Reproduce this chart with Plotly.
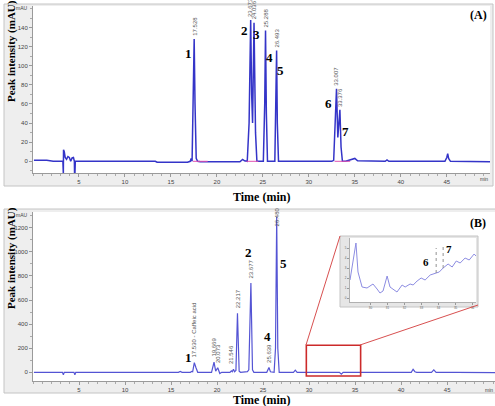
import plotly.graph_objects as go

W, H = 495, 406
def PX(x): return x / W
def PY(y): return 1 - y / H

# ---------------- Data ----------------
# Panel A : standard mixture chromatogram (time in min, intensity in mAU)
time_A = [0.1, 1.5, 2.2, 3.25, 3.3, 3.32, 3.36, 3.4, 3.5, 3.65, 3.8, 3.95, 4.1, 4.25, 4.4, 4.5, 4.52,
          4.56, 4.6, 5.0, 13.3, 13.5, 16.8, 17.1, 17.2, 17.3, 17.42, 17.528, 17.62, 17.75, 17.9, 18.2,
          22.5, 22.8, 23.0, 23.3, 23.5, 23.673, 23.78, 23.88, 24.036, 24.12, 24.2, 24.35, 24.6, 25.05,
          25.2, 25.288, 25.38, 25.5, 26.3, 26.42, 26.493, 26.57, 26.7, 27.0, 32.5, 32.7, 32.85, 33.007,
          33.15, 33.25, 33.376, 33.5, 33.65, 34.0, 34.8, 35.0, 35.3, 36.5, 38.3, 38.5, 38.7, 44.8, 45.0,
          45.1, 45.2, 45.4, 49.8]
inten_A = [1, 1.2, 0, 0, -13, 12, 8, 10, 4, 2, 5, 4, 0, 3.5, 4, 0, -13,
           -13, 0, 0, 0, -1, -1, 0, 3, 0, 60, 128, 60, 3, 0, -0.5,
           -0.5, 2, 0.5, 0, 40, 148, 70, 40, 145, 70, 30, 0, 0, 0,
           60, 137, 50, 0, 0, 60, 116, 40, 0, 0, 0, 1, 30, 76,
           25, 35, 54, 15, 0, 0, 2, 3, 0.5, 0, 0, 1.5, 0, 0, 4,
           8, 3, 0, -0.5]
baseline_A_x = [17.4, 19.0, None, 23.2, 24.5, None, 32.8, 34.5]
baseline_A_y = [0, 0, None, 0, 0, None, 0, 0]
rt_A = [17.528, 23.673, 24.036, 25.288, 26.493, 33.007, 33.376]
rt_A_h = [128, 148, 145, 137, 116, 76, 54]
rt_A_txt = ["17.528", "23.673", "24.036", "25.288", "26.493", "33.007", "33.376"]
num_A = ["1", "2", "3", "4", "5", "6", "7"]

# Panel B : sample chromatogram
time_B = [0.1, 3.2, 3.3, 3.4, 4.45, 4.55, 4.65, 15.8, 16.0, 16.2, 17.1, 17.25, 17.35, 17.53, 17.7,
          17.9, 19.4, 19.669, 19.85, 20.073, 20.3, 20.5, 21.4, 21.55, 21.65, 21.78, 21.9, 22.05,
          22.217, 22.4, 22.55, 23.3, 23.45, 23.677, 23.85, 24.0, 25.4, 25.639, 25.8, 26.2, 26.35,
          26.48, 26.6, 26.75, 27.2, 28.3, 28.5, 28.7, 33.3, 33.5, 33.7, 37.5, 37.8, 38.0, 41.1,
          41.3, 41.5, 41.7, 43.3, 43.55, 43.8, 46.0, 50.2]
inten_B = [0, 0, -20, 0, 0, -20, 0, 0, 8, 0, 0, 8, 5, 80, 40,
           0, 0, 85, 10, 38, -10, 0, 0, 12, 5, 25, 5, 15,
           490, 10, 0, 5, 20, 740, 20, 0, 0, 40, 5, 0, 200,
           1290, 200, 0, 0, 0, 18, 0, 0, -15, 0, 0, 5, 0, 0,
           25, 5, 0, 0, 20, 0, 0, -2]
rt_B = [17.53, 19.669, 20.073, 21.546, 22.217, 23.677, 25.639]
rt_B_h = [80, 85, 38, 25, 490, 740, 40]
rt_B_txt = ["17.530 - Caffeic acid", "19.669", "20.073", "21.546", "22.217", "23.677", "25.639"]
rt_B_top = 26.48
rt_B_top_h = 1290
rt_B_top_txt = "26.480"
num_B = ["1", "2", "4", "5"]

# Inset (zoom of 30-35 min region of B)
time_I = [28.80, 29.15, 29.27, 29.51, 29.80, 30.15, 30.39, 30.56, 30.74, 30.98, 31.15, 31.56, 31.86,
          32.04, 32.33, 32.51, 32.74, 32.98, 33.21, 33.51, 33.86, 34.04, 34.27, 34.56, 34.80, 35.04,
          35.27, 35.56, 35.80, 36.09, 36.2]
inten_I = [1.8, 5.5, 2.6, 1.1, 1.0, 1.4, 0.9, 0.5, 0.7, 2.2, 1.1, 0.6, 1.3,
           1.1, 1.4, 1.3, 1.7, 2.0, 1.8, 2.3, 2.5, 2.6, 3.0, 3.4, 3.1, 3.7,
           3.5, 4.0, 3.8, 4.4, 4.2]
mark_I_x = [33.86, 33.86, None, 34.27, 34.27]
mark_I_y = [2.5, 5.0, None, 3.0, 5.3]
zoom_box = dict(t0=29.7, t1=35.6, i0=-30, i1=225)

# ---------------- Figure ----------------
fig = go.Figure()
fig.add_trace(go.Scatter(x=time_A, y=inten_A, mode="lines", line=dict(color="#3434c8", width=1.5),
                         xaxis="x", yaxis="y", showlegend=False))
fig.add_trace(go.Scatter(x=baseline_A_x, y=baseline_A_y, mode="lines", line=dict(color="#e050b0", width=1),
                         xaxis="x", yaxis="y", showlegend=False))
fig.add_trace(go.Scatter(x=time_B, y=inten_B, mode="lines", line=dict(color="#5454d4", width=1.2),
                         xaxis="x2", yaxis="y2", showlegend=False))
fig.add_trace(go.Scatter(x=time_I, y=inten_I, mode="lines", line=dict(color="#8c8ce2", width=1),
                         xaxis="x3", yaxis="y3", showlegend=False))
fig.add_trace(go.Scatter(x=mark_I_x, y=mark_I_y, mode="lines", line=dict(color="#777777", width=0.8, dash="dot"),
                         xaxis="x3", yaxis="y3", showlegend=False))

tickfont = dict(family="Liberation Sans", size=6, color="#444")
axcommon = dict(showgrid=False, zeroline=False, showline=True, linecolor="#9a9a9a", linewidth=1,
                ticks="outside", ticklen=3, tickcolor="#9a9a9a", tickfont=tickfont)

shapes = []
def rect(x0, y0, x1, y1, fill, line="#c4c4c4", layer="below", lw=1):
    shapes.append(dict(type="rect", xref="paper", yref="paper", x0=PX(x0), x1=PX(x1), y0=PY(y1), y1=PY(y0),
                       fillcolor=fill, line=dict(color=line, width=lw), layer=layer))

# frames
rect(4, 4, 493, 186, "#eeeeee")
rect(33, 6, 490, 173, "#ffffff", line="#ffffff", lw=0)
rect(4, 209, 496, 393, "#eeeeee")
rect(33, 212, 496, 381, "#ffffff", line="#ffffff", lw=0)
rect(340, 236, 478, 307, "#e6e6e6")
rect(350, 238, 476, 302, "#fafafa", line="#fafafa", lw=0)

# red zoom box + connecting lines
shapes.append(dict(type="rect", xref="x2", yref="y2", x0=zoom_box["t0"], x1=zoom_box["t1"],
                   y0=zoom_box["i0"], y1=zoom_box["i1"], line=dict(color="#cc2a2a", width=1.6), layer="above"))
shapes.append(dict(type="line", xref="paper", yref="paper", x0=PX(306), y0=PY(345), x1=PX(340), y1=PY(236),
                   line=dict(color="#d85050", width=1), layer="above"))
shapes.append(dict(type="line", xref="paper", yref="paper", x0=PX(360), y0=PY(345), x1=PX(478), y1=PY(305),
                   line=dict(color="#d85050", width=1), layer="above"))

ann = []
serif = "Liberation Serif"
def txt(x, y, s, size=12, bold=True, angle=0, xa="center", ya="middle", color="black", family=serif):
    ann.append(dict(xref="paper", yref="paper", x=PX(x), y=PY(y), text=("<b>%s</b>" % s) if bold else s,
                    showarrow=False, textangle=angle, xanchor=xa, yanchor=ya,
                    font=dict(family=family, size=size, color=color)))

# titles
txt(11, 51, "Peak intensity (mAU)", size=11, angle=-90)
txt(11, 258, "Peak intensity (mAU)", size=11, angle=-90)
txt(261, 197, "Time (min)", size=12)
txt(261, 400, "Time (min)", size=12)
txt(478, 15, "(A)", size=12)
txt(478, 223, "(B)", size=12)
# unit labels on axes
txt(30, 8, "mAU", size=5, bold=False, xa="right", family="Liberation Sans", color="#444")
txt(30, 215, "mAU", size=5, bold=False, xa="right", family="Liberation Sans", color="#444")
txt(490, 179, "min", size=5, bold=False, xa="right", family="Liberation Sans", color="#444")
txt(495, 390, "min", size=5, bold=False, xa="right", family="Liberation Sans", color="#444")

# peak numbers
numA_pos = [(188, 53), (244, 31), (256, 34), (269, 58), (280, 70), (328, 103), (345, 131)]
for s, (x, y) in zip(num_A, numA_pos):
    txt(x, y, s, size=13)
numB_pos = [(188, 357), (248, 253), (267, 336), (283, 263)]
for s, (x, y) in zip(num_B, numB_pos):
    txt(x, y, s, size=13)
txt(426, 262, "6", size=11)
txt(449, 249, "7", size=11)

# retention time labels
rtfont = dict(family="Liberation Sans", size=6, color="#555")
for t, h, s in zip(rt_A, rt_A_h, rt_A_txt):
    ann.append(dict(xref="x", yref="y", x=t, y=h, text=s, showarrow=False, textangle=-90,
                    xanchor="center", yanchor="bottom", yshift=1, font=rtfont))
for t, h, s in zip(rt_B, rt_B_h, rt_B_txt):
    ann.append(dict(xref="x2", yref="y2", x=t, y=h, text=s, showarrow=False, textangle=-90,
                    xanchor="center", yanchor="bottom", yshift=3, font=rtfont))
ann.append(dict(xref="x2", yref="y2", x=rt_B_top, y=rt_B_top_h, text=rt_B_top_txt, showarrow=False,
                textangle=-90, xanchor="center", yanchor="middle", font=rtfont))

fig.update_layout(
    width=W, height=H, margin=dict(l=0, r=0, t=0, b=0),
    paper_bgcolor="white", plot_bgcolor="white", showlegend=False,
    xaxis=dict(domain=[PX(33), PX(490)], range=[0, 49.7], anchor="y", tickvals=[5, 10, 15, 20, 25, 30, 35, 40, 45],
               minor=dict(ticks="outside", ticklen=2, dtick=1, tickcolor="#aaaaaa"), **axcommon),
    yaxis=dict(domain=[PY(173), PY(6)], range=[-12.25, 162.6], anchor="x", tickvals=[0, 20, 40, 60, 80, 100, 120, 140],
               minor=dict(ticks="outside", ticklen=2, dtick=10, tickcolor="#aaaaaa"), **axcommon),
    xaxis2=dict(domain=[PX(33), 1.0], range=[0, 50.2], anchor="y2", tickvals=[5, 10, 15, 20, 25, 30, 35, 40, 45],
                minor=dict(ticks="outside", ticklen=2, dtick=1, tickcolor="#aaaaaa"), **axcommon),
    yaxis2=dict(domain=[PY(381), PY(212)], range=[-72, 1330], anchor="x2",
                tickvals=[0, 200, 400, 600, 800, 1000, 1200],
                minor=dict(ticks="outside", ticklen=2, dtick=100, tickcolor="#aaaaaa"), **axcommon),
    xaxis3=dict(domain=[PX(350), PX(476)], range=[28.8, 36.2], anchor="y3", tickvals=[30, 31, 32, 33, 34, 35, 36],
                showgrid=False, zeroline=False, showline=True, linecolor="#b0b0b0", ticks="outside", ticklen=2,
                tickcolor="#999", tickfont=dict(family="Liberation Sans", size=3, color="#666")),
    yaxis3=dict(domain=[PY(302), PY(238)], range=[-0.4, 6.0], anchor="x3", tickvals=[0, 1, 2, 3, 4, 5],
                showgrid=False, zeroline=False, showline=True, linecolor="#b0b0b0", ticks="outside", ticklen=2,
                tickcolor="#999", tickfont=dict(family="Liberation Sans", size=3, color="#666")),
    shapes=shapes, annotations=ann,
)

fig.write_html("out.html")
